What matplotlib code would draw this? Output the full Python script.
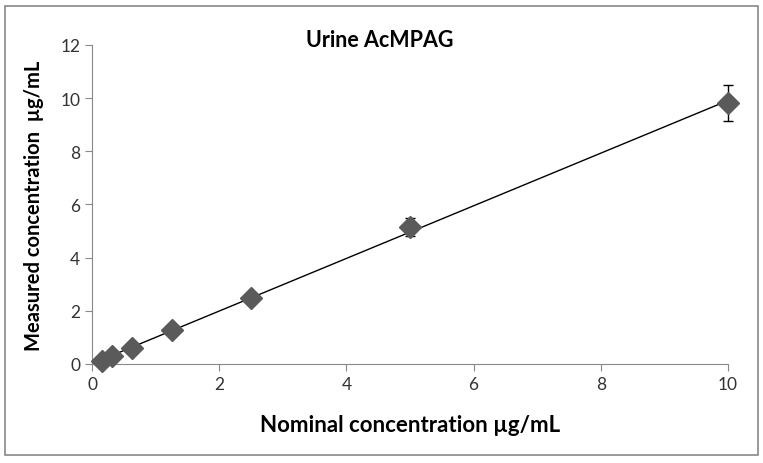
import numpy as np
import matplotlib.pyplot as plt
from matplotlib.patches import Rectangle

nominal = [0.156, 0.3125, 0.625, 1.25, 2.5, 5, 10]
measured = [0.12, 0.31, 0.59, 1.26, 2.47, 5.15, 9.82]
err = [0.03, 0.04, 0.05, 0.08, 0.12, 0.33, 0.68]

plt.rcParams['font.family'] = ['Lato', 'DejaVu Sans']

fig = plt.figure(figsize=(7.63, 4.64), dpi=100)
ax = fig.add_axes([0.1206, 0.2134, 0.8334, 0.6875])

# linear trendline through the data
slope, icpt = np.polyfit(nominal, measured, 1)
xs = np.array([nominal[0], nominal[-1]])
ax.plot(xs, slope * xs + icpt, color='black', lw=1, zorder=2, clip_on=False)

ax.errorbar(nominal, measured, yerr=err, fmt='D', color='#5a5a5a',
            markersize=11, ecolor='black', elinewidth=1, capsize=3.5,
            capthick=1, zorder=3, clip_on=False)

ax.set_xlim(0, 10)
ax.set_ylim(0, 12)
ax.set_xticks([0, 2, 4, 6, 8, 10])
ax.set_yticks([0, 2, 4, 6, 8, 10, 12])
for s in ['top', 'right']:
    ax.spines[s].set_visible(False)
for s in ['left', 'bottom']:
    ax.spines[s].set_color('#888888')
ax.tick_params(colors='#888888', labelcolor='#333333', labelsize=12.5, length=5)

ax.set_xlabel('Nominal concentration µg/mL', fontsize=16, fontweight='bold', labelpad=16)
ax.set_ylabel('Measured concentration  µg/mL', fontsize=14.5, fontweight='bold', labelpad=12)
fig.text(0.498, 0.913, 'Urine AcMPAG', fontsize=15.5, fontweight='bold', ha='center', va='center')

fig.patches.append(Rectangle((0.006, 0.017), 0.988, 0.968, transform=fig.transFigure,
                             fill=False, edgecolor='#888888', lw=1.2))

fig.savefig('out.png', dpi=100)
